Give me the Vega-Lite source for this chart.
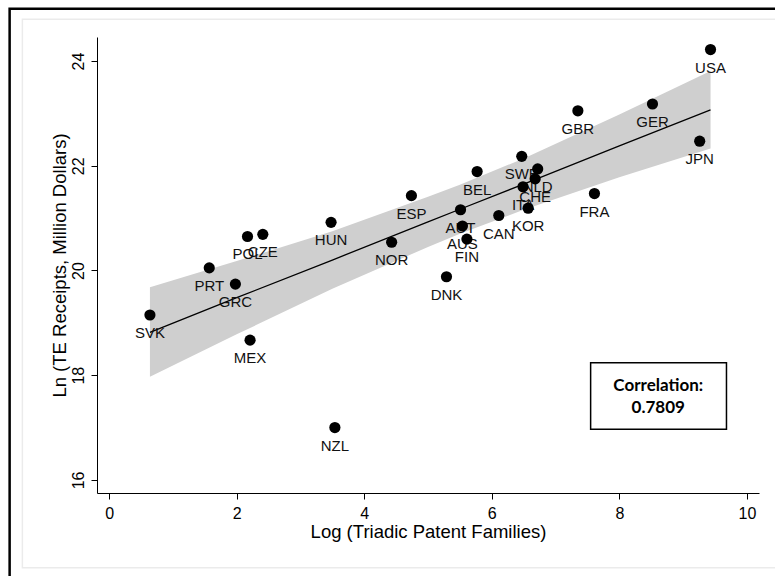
{
  "$schema": "https://vega.github.io/schema/vega-lite/v6.json",
  "width": 662,
  "height": 456,
  "autosize": {"type": "none"},
  "padding": {"left": 97, "top": 37, "right": 16, "bottom": 83},
  "background": "white",
  "config": {
    "view": {"stroke": null},
    "font": "Liberation Sans",
    "axis": {
      "grid": false,
      "domainColor": "black",
      "domainWidth": 1,
      "tickColor": "black",
      "tickSize": 6,
      "labelColor": "black",
      "titleColor": "black",
      "labelFont": "Liberation Sans",
      "titleFont": "Liberation Sans",
      "labelFontSize": 16,
      "titleFontSize": 18.5,
      "titleFontWeight": "normal"
    }
  },
  "datasets": {
    "pts": [
      {"country": "USA", "patents": 9.43, "receipts": 24.22},
      {"country": "GER", "patents": 8.52, "receipts": 23.18},
      {"country": "GBR", "patents": 7.35, "receipts": 23.05},
      {"country": "JPN", "patents": 9.26, "receipts": 22.47},
      {"country": "FRA", "patents": 7.61, "receipts": 21.47},
      {"country": "SWE", "patents": 6.47, "receipts": 22.18},
      {"country": "NLD", "patents": 6.72, "receipts": 21.94},
      {"country": "CHE", "patents": 6.68, "receipts": 21.75},
      {"country": "ITA", "patents": 6.49, "receipts": 21.60},
      {"country": "KOR", "patents": 6.57, "receipts": 21.19},
      {"country": "BEL", "patents": 5.77, "receipts": 21.89},
      {"country": "CAN", "patents": 6.11, "receipts": 21.05},
      {"country": "AUT", "patents": 5.51, "receipts": 21.16},
      {"country": "AUS", "patents": 5.54, "receipts": 20.85},
      {"country": "FIN", "patents": 5.61, "receipts": 20.60},
      {"country": "DNK", "patents": 5.29, "receipts": 19.88},
      {"country": "ESP", "patents": 4.74, "receipts": 21.43},
      {"country": "HUN", "patents": 3.48, "receipts": 20.92},
      {"country": "NOR", "patents": 4.43, "receipts": 20.54},
      {"country": "POL", "patents": 2.17, "receipts": 20.65},
      {"country": "CZE", "patents": 2.41, "receipts": 20.69},
      {"country": "PRT", "patents": 1.57, "receipts": 20.05},
      {"country": "GRC", "patents": 1.98, "receipts": 19.74},
      {"country": "SVK", "patents": 0.64, "receipts": 19.15},
      {"country": "MEX", "patents": 2.21, "receipts": 18.67},
      {"country": "NZL", "patents": 3.54, "receipts": 17.00}
    ],
    "band": [
      {"patents": 0.64, "fit": 18.82, "lo": 17.97, "hi": 19.68},
      {"patents": 2.0, "fit": 19.48, "lo": 18.78, "hi": 20.18},
      {"patents": 3.5, "fit": 20.20, "lo": 19.65, "hi": 20.75},
      {"patents": 5.0, "fit": 20.93, "lo": 20.45, "hi": 21.41},
      {"patents": 5.5, "fit": 21.17, "lo": 20.70, "hi": 21.64},
      {"patents": 6.5, "fit": 21.65, "lo": 21.16, "hi": 22.14},
      {"patents": 8.0, "fit": 22.38, "lo": 21.78, "hi": 22.98},
      {"patents": 9.43, "fit": 23.07, "lo": 22.33, "hi": 23.81}
    ]
  },
  "layer": [
    {
      "data": {"values": [{}]},
      "mark": {"type": "rect", "fillOpacity": 0, "stroke": "#ebebeb", "strokeWidth": 1.5, "clip": false},
      "encoding": {
        "x": {"datum": -1.36, "type": "quantitative",
              "scale": {"domain": [-0.19, 10.19], "nice": false, "zero": false}},
        "x2": {"datum": 12},
        "y": {"datum": 24.8, "type": "quantitative",
              "scale": {"domain": [15.75, 24.46], "nice": false, "zero": false}},
        "y2": {"datum": 14.32}
      }
    },
    {
      "data": {"values": [{}]},
      "mark": {"type": "rect", "fillOpacity": 0, "stroke": "black", "strokeWidth": 2.5, "clip": false},
      "encoding": {
        "x": {"datum": -1.56, "type": "quantitative"},
        "x2": {"datum": 12},
        "y": {"datum": 25.0, "type": "quantitative"},
        "y2": {"datum": 13.5}
      }
    },
    {
      "data": {"name": "band"},
      "mark": {"type": "area", "color": "#cfcfcf", "opacity": 1},
      "encoding": {
        "x": {"field": "patents", "type": "quantitative",
              "scale": {"domain": [-0.19, 10.19], "nice": false, "zero": false},
              "axis": {"values": [0, 2, 4, 6, 8, 10], "format": "d", "title": "Log (Triadic Patent Families)", "labelPadding": 6, "titlePadding": 1, "labelFlush": false}},
        "y": {"field": "lo", "type": "quantitative",
              "scale": {"domain": [15.75, 24.46], "nice": false, "zero": false},
              "axis": {"values": [16, 18, 20, 22, 24], "format": "d", "title": "Ln (TE Receipts, Million Dollars)", "labelAngle": 270, "labelAlign": "center", "labelBaseline": "bottom", "labelPadding": 5, "titlePadding": 1, "labelFlush": false}},
        "y2": {"field": "hi"}
      }
    },
    {
      "data": {"name": "band"},
      "mark": {"type": "line", "color": "black", "strokeWidth": 1.3},
      "encoding": {
        "x": {"field": "patents", "type": "quantitative"},
        "y": {"field": "fit", "type": "quantitative"}
      }
    },
    {
      "data": {"name": "pts"},
      "mark": {"type": "text", "dy": 18, "baseline": "middle", "align": "center", "fontSize": 15, "color": "#111111", "font": "Liberation Sans"},
      "encoding": {
        "x": {"field": "patents", "type": "quantitative"},
        "y": {"field": "receipts", "type": "quantitative"},
        "text": {"field": "country"}
      }
    },
    {
      "data": {"name": "pts"},
      "mark": {"type": "circle", "color": "black", "opacity": 1, "size": 125},
      "encoding": {
        "x": {"field": "patents", "type": "quantitative"},
        "y": {"field": "receipts", "type": "quantitative"}
      }
    },
    {
      "data": {"values": [{}]},
      "mark": {"type": "rect", "fill": "white", "stroke": "black", "strokeWidth": 1.5},
      "encoding": {
        "x": {"datum": 7.55, "type": "quantitative"},
        "x2": {"datum": 9.68},
        "y": {"datum": 18.24, "type": "quantitative"},
        "y2": {"datum": 16.97}
      }
    },
    {
      "data": {"values": [{}]},
      "mark": {"type": "text", "font": "Lato", "fontWeight": "bold", "fontSize": 17, "color": "black", "align": "center", "baseline": "middle"},
      "encoding": {
        "x": {"datum": 8.61, "type": "quantitative"},
        "y": {"datum": 17.79, "type": "quantitative"},
        "text": {"value": "Correlation:"}
      }
    },
    {
      "data": {"values": [{}]},
      "mark": {"type": "text", "font": "Lato", "fontWeight": "bold", "fontSize": 17, "color": "black", "align": "center", "baseline": "middle"},
      "encoding": {
        "x": {"datum": 8.61, "type": "quantitative"},
        "y": {"datum": 17.38, "type": "quantitative"},
        "text": {"value": "0.7809"}
      }
    }
  ]
}
